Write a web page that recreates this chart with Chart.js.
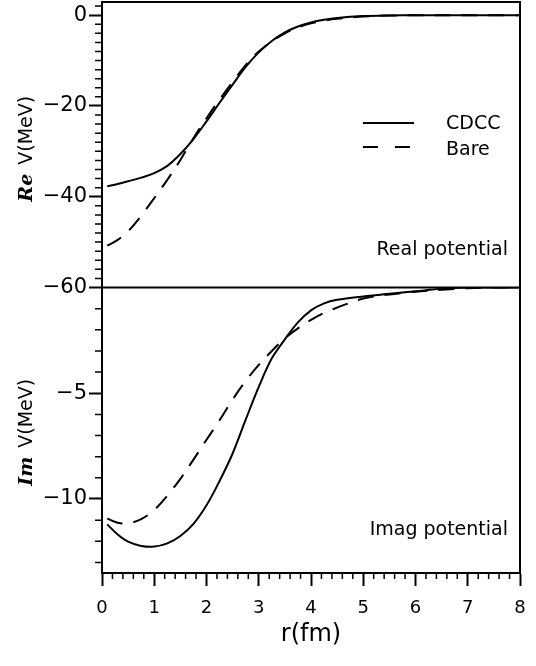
<!DOCTYPE html>
<html>
<head>
<meta charset="utf-8">
<script src="https://cdn.jsdelivr.net/npm/chart.js@4.4.1/dist/chart.umd.min.js"></script>
<style>
  body { margin: 0; background: #fff; }
  #wrap { width: 536px; height: 666px; position: relative; }
</style>
</head>
<body>
<div id="wrap"><canvas id="potChart"></canvas></div>
<script>
// radius points (fm) shared by all four curves
const r = [0.1, 0.3, 0.5, 0.75, 1.0, 1.25, 1.5, 1.75, 2.0, 2.25, 2.5, 2.75, 3.0,
           3.25, 3.5, 3.75, 4.0, 4.25, 4.5, 5.0, 5.5, 6.0, 6.5, 7.0, 7.5, 8.0];

// real part (MeV)
const reCdcc = [-37.7, -37.2, -36.6, -35.8, -34.8, -33.2, -30.6, -27.3, -23.4, -19.3, -15.3, -11.4, -8.2,
                -5.7, -3.8, -2.5, -1.6, -1.0, -0.6, -0.2, -0.05, 0, 0, 0, 0, 0];
const reBare = [-50.8, -49.5, -47.6, -44.2, -40.3, -36.3, -31.9, -27.1, -22.7, -18.6, -14.7, -11.0, -8.0,
                -5.8, -4.0, -2.7, -1.8, -1.2, -0.8, -0.3, -0.1, -0.03, 0, 0, 0, 0];

// imaginary part (MeV)
const imCdcc = [-11.2, -11.68, -12.02, -12.22, -12.25, -12.1, -11.75, -11.18, -10.3, -9.15, -7.85, -6.25, -4.7,
                -3.35, -2.45, -1.65, -1.08, -0.75, -0.58, -0.42, -0.3, -0.18, -0.06, 0, 0, 0];
const imBare = [-10.93, -11.12, -11.15, -10.95, -10.52, -9.84, -9.05, -8.14, -7.2, -6.28, -5.3, -4.42, -3.66,
                -3.0, -2.4, -1.93, -1.53, -1.2, -0.95, -0.52, -0.33, -0.2, -0.11, -0.03, 0, 0];

const xTicks = [0, 1, 2, 3, 4, 5, 6, 7, 8];
const reTicks = [-60, -40, -20, 0];
const imTicks = [-10, -5];

function pts(ys) {
  return r.map((x, i) => ({ x: x, y: ys[i] }));
}

Chart.defaults.font.family = "'DejaVu Sans', sans-serif";
Chart.defaults.color = '#000';

function line(data, axis, dashed) {
  return {
    data: pts(data),
    yAxisID: axis,
    borderColor: '#000',
    borderWidth: 2,
    borderDash: dashed ? [16, 11] : [],
    pointRadius: 0,
    fill: false,
    tension: 0.35
  };
}

const minus = v => String(v).replace('-', '\u2212');

function yAxis(min, max, ticks) {
  return {
    type: 'linear',
    position: 'left',
    stack: 'v',
    stackWeight: 1,
    min: min,
    max: max,
    afterBuildTicks: s => { s.ticks = ticks.map(v => ({ value: v })); },
    afterFit: s => { s.width = 102; s.paddingTop = 0; s.paddingBottom = 0; },
    grid: { drawOnChartArea: false, tickLength: 13, tickWidth: 2, tickColor: '#000' },
    border: { color: '#000', width: 2 },
    ticks: { font: { size: 21 }, padding: 2, autoSkip: false, callback: minus }
  };
}

// rotated axis title: script part + V(MeV)
function yTitle(ctx, cx, cy, sym) {
  ctx.save();
  ctx.translate(cx, cy);
  ctx.rotate(-Math.PI / 2);
  ctx.textBaseline = 'middle';
  ctx.textAlign = 'left';
  const symFont = "bold italic 19px 'DejaVu Serif'";
  const mainFont = "19px 'DejaVu Sans'";
  ctx.font = symFont;
  const w1 = ctx.measureText(sym).width;
  ctx.font = mainFont;
  const w2 = ctx.measureText('V(MeV)').width;
  const gap = 9;
  const start = -(w1 + gap + w2) / 2;
  ctx.font = symFont;
  ctx.fillText(sym, start, 0);
  ctx.font = mainFont;
  ctx.fillText('V(MeV)', start + w1 + gap, 0);
  ctx.restore();
}

const decor = {
  id: 'decor',
  afterDraw(chart) {
    const { ctx, chartArea: a, scales } = chart;
    const x = scales.x, yRe = scales.yRe, yIm = scales.yIm;
    ctx.save();
    ctx.strokeStyle = '#000';
    ctx.fillStyle = '#000';

    // minor ticks
    ctx.lineWidth = 1.5;
    ctx.beginPath();
    for (let v = -58; v < 2.9; v += 2) {
      if (v % 20 === 0) continue;
      const p = yRe.getPixelForValue(v);
      ctx.moveTo(a.left, p); ctx.lineTo(a.left - 7, p);
    }
    for (let v = -13; v < 0; v++) {
      if (v % 5 === 0) continue;
      const p = yIm.getPixelForValue(v);
      ctx.moveTo(a.left, p); ctx.lineTo(a.left - 7, p);
    }
    for (let i = 1; i < 40; i++) {
      if (i % 5 === 0) continue;
      const p = x.getPixelForValue(i * 0.2);
      ctx.moveTo(p, a.bottom); ctx.lineTo(p, a.bottom + 6);
    }
    ctx.stroke();

    // frame + panel divider
    ctx.lineWidth = 2;
    ctx.beginPath();
    ctx.moveTo(a.left, a.top); ctx.lineTo(a.right, a.top); ctx.lineTo(a.right, a.bottom);
    const d = yRe.getPixelForValue(-60);
    ctx.moveTo(a.left, d); ctx.lineTo(a.right, d);
    ctx.stroke();

    // axis titles
    yTitle(ctx, 27, (yRe.top + yRe.bottom) / 2 + 4, 'Re');
    yTitle(ctx, 27, (yIm.top + yIm.bottom) / 2 + 2, 'Im');

    // legend
    ctx.beginPath();
    ctx.moveTo(a.right - 157, a.top + 121); ctx.lineTo(a.right - 106, a.top + 121);
    ctx.stroke();
    ctx.setLineDash([15, 17]);
    ctx.beginPath();
    ctx.moveTo(a.right - 157, a.top + 145); ctx.lineTo(a.right - 110, a.top + 145);
    ctx.stroke();
    ctx.setLineDash([]);

    ctx.font = "19px 'DejaVu Sans'";
    ctx.textAlign = 'left';
    ctx.textBaseline = 'alphabetic';
    ctx.fillText('CDCC', a.right - 74, a.top + 127);
    ctx.fillText('Bare', a.right - 74, a.top + 153);

    ctx.textAlign = 'right';
    ctx.fillText('Real potential', a.right - 12, d - 33);
    ctx.fillText('Imag potential', a.right - 12, a.bottom - 38);
    ctx.restore();
  }
};

new Chart(document.getElementById('potChart'), {
  type: 'line',
  data: {
    datasets: [
      line(reCdcc, 'yRe', false),
      line(reBare, 'yRe', true),
      line(imCdcc, 'yIm', false),
      line(imBare, 'yIm', true)
    ]
  },
  options: {
    responsive: true,
    maintainAspectRatio: false,
    animation: false,
    layout: { padding: { left: 0, top: 2, right: 16, bottom: 0 } },
    plugins: { legend: { display: false }, tooltip: { enabled: false } },
    scales: {
      x: {
        type: 'linear',
        min: 0,
        max: 8,
        afterBuildTicks: s => { s.ticks = xTicks.map(v => ({ value: v })); },
        afterFit: s => { s.height = 93; s.paddingLeft = 0; s.paddingRight = 0; },
        grid: { drawOnChartArea: false, tickLength: 13, tickWidth: 2, tickColor: '#000' },
        border: { color: '#000', width: 2 },
        ticks: { font: { size: 18 }, padding: 12, maxRotation: 0, autoSkip: false },
        title: { display: true, text: 'r(fm)', font: { size: 24 }, padding: { top: 2, bottom: 17 } }
      },
      yIm: yAxis(-13.5, 0, imTicks),
      yRe: yAxis(-60, 2.9, reTicks)
    }
  },
  plugins: [decor]
});
</script>
</body>
</html>
